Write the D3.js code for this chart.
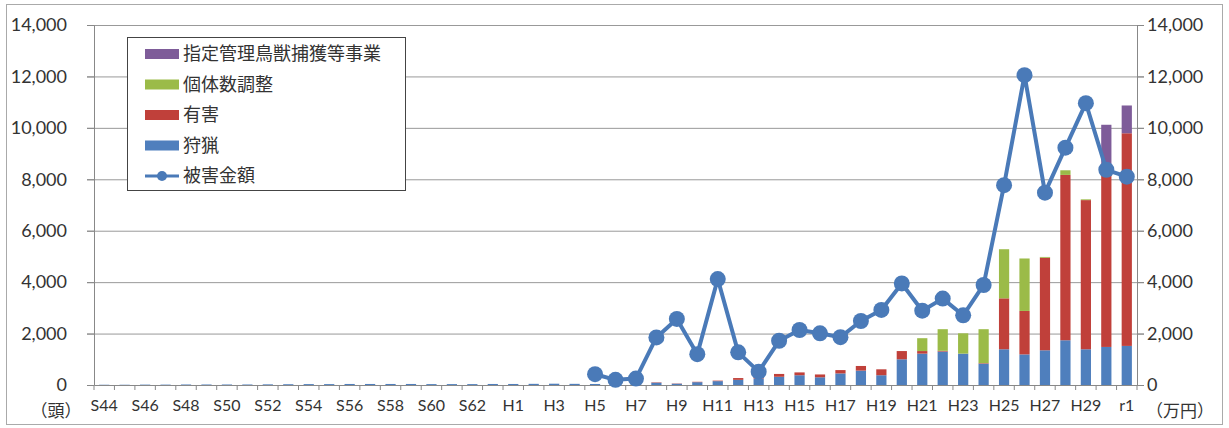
<!DOCTYPE html>
<html>
<head>
<meta charset="utf-8">
<script src="https://cdn.jsdelivr.net/npm/d3@7"></script>
<style>
  body { margin: 0; background: #fff; }
  text { font-family: Lato, "Noto Sans CJK JP", sans-serif; fill: #333; }
  .cjk { font-family: "Noto Sans CJK JP", sans-serif; }
</style>
</head>
<body>
<div id="chart"></div>
<script>
var svgWidth = 1229;
var svgHeight = 428;

var margin = { top: 25, right: 92, bottom: 43, left: 94 };
var width = svgWidth - margin.left - margin.right;
var height = svgHeight - margin.top - margin.bottom;

// years S44 .. S63, H1 .. H30, r1
var years = [];
for (var i = 44; i <= 63; i++) years.push("S" + i);
for (var j = 1; j <= 30; j++) years.push("H" + j);
years.push("r1");

// 狩猟 (hunting)
var hunting = [10, 10, 15, 15, 20, 20, 20, 20, 25, 30, 35, 35, 40, 40, 40, 40, 35, 35, 35, 40,
  40, 45, 50, 45, 40, 30, 40, 90, 50, 110, 150, 200, 250, 320, 380, 300, 450, 560, 380,
  1000, 1220, 1300, 1220, 830, 1390, 1190, 1350, 1740, 1390, 1480, 1520];
// 有害 (nuisance control)
var nuisance = [0, 0, 0, 0, 0, 0, 0, 0, 0, 0, 0, 0, 0, 0, 0, 0, 0, 0, 0, 0,
  0, 0, 0, 0, 0, 0, 0, 15, 10, 15, 20, 70, 70, 110, 110, 110, 130, 180, 230,
  320, 100, 30, 0, 20, 1980, 1690, 3600, 6430, 5800, 7020, 8270];
// 個体数調整 (population control)
var population = [0, 0, 0, 0, 0, 0, 0, 0, 0, 0, 0, 0, 0, 0, 0, 0, 0, 0, 0, 0,
  0, 0, 0, 0, 0, 0, 0, 0, 0, 0, 0, 0, 0, 0, 0, 0, 0, 0, 0,
  0, 500, 840, 790, 1320, 1910, 2040, 30, 180, 30, 0, 0];
// 指定管理鳥獣捕獲等事業 (designated species capture project)
var designated = [0, 0, 0, 0, 0, 0, 0, 0, 0, 0, 0, 0, 0, 0, 0, 0, 0, 0, 0, 0,
  0, 0, 0, 0, 0, 0, 0, 0, 0, 0, 0, 0, 0, 0, 0, 0, 0, 0, 0,
  0, 0, 0, 0, 0, 0, 0, 0, 0, 0, 1620, 1080];
// 被害金額 (damage, 万円), from H5
var damage = [null, null, null, null, null, null, null, null, null, null, null, null, null, null, null, null, null, null, null, null,
  null, null, null, null, 420, 200, 250, 1850, 2570, 1200, 4120, 1270, 520, 1720, 2140, 2010, 1860, 2490, 2920,
  3950, 2890, 3360, 2710, 3890, 7770, 12050, 7480, 9230, 10960, 8370, 8100];

var seriesKeys = ["hunting", "nuisance", "population", "designated"];
var seriesNames = ["狩猟", "有害", "個体数調整", "指定管理鳥獣捕獲等事業"];
var seriesColors = ["#4f7fbd", "#c0403a", "#9bbb48", "#7e5c99"];
var lineColor = "#4a7ab8";

var yTicks = [0, 2000, 4000, 6000, 8000, 10000, 12000, 14000];

var rows = years.map(function(y, i) {
  return { year: y, hunting: hunting[i], nuisance: nuisance[i], population: population[i],
    designated: designated[i], damage: damage[i] };
});

var svg = d3.select("#chart")
  .append("svg")
  .attr("width", svgWidth)
  .attr("height", svgHeight);

// outer frame
svg.append("rect")
  .attr("x", 6.5).attr("y", 4.5)
  .attr("width", 1216).attr("height", 420)
  .attr("fill", "none")
  .attr("stroke", "#aaa");

var chartGroup = svg.append("g")
  .attr("transform", `translate(${margin.left}, ${margin.top})`);

var xBand = d3.scaleBand()
  .domain(years)
  .range([0, width])
  .paddingInner(0.5)
  .paddingOuter(0.25);

var xPoint = function(y) { return xBand(y) + xBand.bandwidth() / 2; };

var yLinearScale = d3.scaleLinear()
  .domain([0, 14000])
  .range([height, 0]);

// gridlines
chartGroup.append("g")
  .selectAll("line")
  .data(yTicks.slice(1))
  .enter()
  .append("line")
  .attr("x1", -7)
  .attr("x2", width + 7)
  .attr("y1", d => yLinearScale(d) + 0.5)
  .attr("y2", d => yLinearScale(d) + 0.5)
  .attr("stroke", "#999")
  .attr("stroke-width", 1);

// left axis
var leftAxis = d3.axisLeft(yLinearScale).tickValues(yTicks).tickFormat(d3.format(",")).tickSize(7).tickPadding(20);
var leftG = chartGroup.append("g").call(leftAxis);
leftG.select(".domain").attr("stroke", "#888");
leftG.selectAll(".tick line").attr("stroke", "#888");
leftG.selectAll("text").style("font-size", "18px").attr("fill", "#333");

// right axis
var rightAxis = d3.axisRight(yLinearScale).tickValues(yTicks).tickFormat(d3.format(",")).tickSize(7).tickPadding(3);
var rightG = chartGroup.append("g").attr("transform", `translate(${width}, 0)`).call(rightAxis);
rightG.select(".domain").attr("stroke", "#888");
rightG.selectAll(".tick line").attr("stroke", "#888");
rightG.selectAll("text").style("font-size", "18px").attr("fill", "#333");

// bottom axis: ticks at band boundaries
var step = xBand.step();
var x0 = xBand(years[0]) - xBand.paddingInner() * step / 2;
chartGroup.append("g")
  .selectAll("line")
  .data(d3.range(years.length + 1))
  .enter()
  .append("line")
  .attr("x1", d => x0 + d * step)
  .attr("x2", d => x0 + d * step)
  .attr("y1", height)
  .attr("y2", height + 5)
  .attr("stroke", "#888");

var bottomAxis = d3.axisBottom(xBand)
  .tickValues(years.filter((d, i) => i % 2 === 0))
  .tickSize(0)
  .tickPadding(15);
var bottomG = chartGroup.append("g").attr("transform", `translate(0, ${height})`).call(bottomAxis);
bottomG.select(".domain").attr("stroke", "#888");
bottomG.selectAll("text").style("font-size", "16px").attr("fill", "#333");

// stacked bars
var stack = d3.stack().keys(seriesKeys);
var stacked = stack(rows);

chartGroup.append("g")
  .selectAll("g")
  .data(stacked)
  .enter()
  .append("g")
  .attr("fill", (d, i) => seriesColors[i])
  .selectAll("rect")
  .data(d => d)
  .enter()
  .append("rect")
  .attr("x", d => xBand(d.data.year))
  .attr("y", d => yLinearScale(d[1]))
  .attr("width", xBand.bandwidth())
  .attr("height", d => Math.max(0, yLinearScale(d[0]) - yLinearScale(d[1])));

// damage line
var lineData = rows.filter(d => d.damage !== null);
var line = d3.line()
  .x(d => xPoint(d.year))
  .y(d => yLinearScale(d.damage));

chartGroup.append("path")
  .datum(lineData)
  .attr("d", line)
  .attr("fill", "none")
  .attr("stroke", lineColor)
  .attr("stroke-width", 4)
  .attr("stroke-linejoin", "round");

chartGroup.selectAll("circle.dmg")
  .data(lineData)
  .enter()
  .append("circle")
  .attr("class", "dmg")
  .attr("cx", d => xPoint(d.year))
  .attr("cy", d => yLinearScale(d.damage))
  .attr("r", 8)
  .attr("fill", lineColor);

// unit labels
svg.append("text")
  .attr("class", "cjk")
  .attr("x", 56).attr("y", 417)
  .attr("text-anchor", "middle")
  .style("font-size", "17px")
  .text("（頭）");

svg.append("text")
  .attr("class", "cjk")
  .attr("x", 1180).attr("y", 417)
  .attr("text-anchor", "middle")
  .style("font-size", "17px")
  .text("（万円）");

// legend
var legend = svg.append("g").attr("transform", "translate(127, 37)");
legend.append("rect")
  .attr("x", 0.5).attr("y", 0.5)
  .attr("width", 278).attr("height", 153)
  .attr("fill", "#fff")
  .attr("stroke", "#444");

var legendItems = [
  { name: seriesNames[3], color: seriesColors[3], type: "bar" },
  { name: seriesNames[2], color: seriesColors[2], type: "bar" },
  { name: seriesNames[1], color: seriesColors[1], type: "bar" },
  { name: seriesNames[0], color: seriesColors[0], type: "bar" },
  { name: "被害金額", color: lineColor, type: "line" }
];

var items = legend.selectAll("g.item")
  .data(legendItems)
  .enter()
  .append("g")
  .attr("class", "item")
  .attr("transform", (d, i) => `translate(18, ${17 + i * 30.5})`);

items.filter(d => d.type === "bar")
  .append("rect")
  .attr("x", 0).attr("y", -5)
  .attr("width", 34).attr("height", 10)
  .attr("fill", d => d.color);

items.filter(d => d.type === "line")
  .append("line")
  .attr("x1", 0).attr("x2", 34)
  .attr("stroke", d => d.color)
  .attr("stroke-width", 3);

items.filter(d => d.type === "line")
  .append("circle")
  .attr("cx", 17).attr("r", 5)
  .attr("fill", d => d.color);

items.append("text")
  .attr("class", "cjk")
  .attr("x", 38)
  .attr("dy", "0.36em")
  .style("font-size", "18px")
  .attr("fill", "#222")
  .text(d => d.name);
</script>
</body>
</html>
